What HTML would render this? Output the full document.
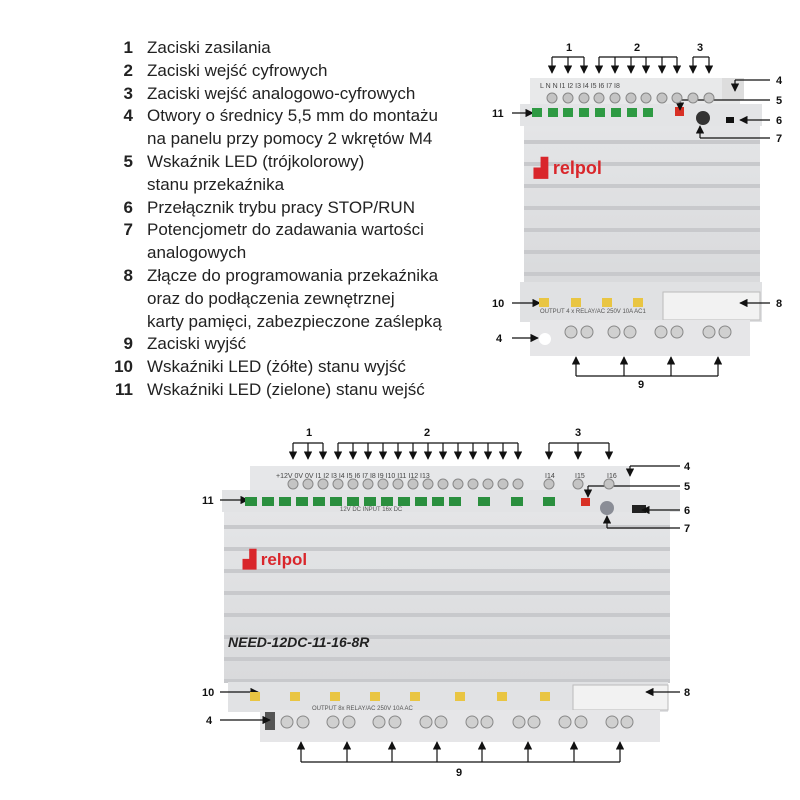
<!DOCTYPE html>
<html><head><meta charset="utf-8"><style>
body{margin:0;background:#fff;width:800px;height:800px;overflow:hidden}
.t{position:absolute;font-family:"Liberation Sans",sans-serif;font-size:17px;color:#222}
.t div{height:22.8px;line-height:22.8px;white-space:nowrap}
.t b{display:inline-block;width:22px;text-align:right;margin-right:14px;vertical-align:top;line-height:22.8px}
.t .c{padding-left:36px}
</style></head><body>
<div class="t" style="left:111px;top:37px;width:380px">
<div><b>1</b>Zaciski zasilania</div>
<div><b>2</b>Zaciski wejść cyfrowych</div>
<div><b>3</b>Zaciski wejść analogowo-cyfrowych</div>
<div><b>4</b>Otwory o średnicy 5,5 mm do montażu</div>
<div class="c">na panelu przy pomocy 2 wkrętów M4</div>
<div><b>5</b>Wskaźnik LED (trójkolorowy)</div>
<div class="c">stanu przekaźnika</div>
<div><b>6</b>Przełącznik trybu pracy STOP/RUN</div>
<div><b>7</b>Potencjometr do zadawania wartości</div>
<div class="c">analogowych</div>
<div><b>8</b>Złącze do programowania przekaźnika</div>
<div class="c">oraz do podłączenia zewnętrznej</div>
<div class="c">karty pamięci, zabezpieczone zaślepką</div>
<div><b>9</b>Zaciski wyjść</div>
<div><b>10</b>Wskaźniki LED (żółte) stanu wyjść</div>
<div><b>11</b>Wskaźniki LED (zielone) stanu wejść</div>
</div>
<svg id="s" width="800" height="800" style="position:absolute;left:0;top:0" font-family="Liberation Sans,sans-serif">
<defs>
<linearGradient id="g" x1="0" y1="0" x2="0" y2="1">
<stop offset="0" stop-color="#e4e5e7"/><stop offset="1" stop-color="#d9dadc"/></linearGradient>
<marker id="a" viewBox="0 0 10 10" refX="9" refY="5" markerWidth="7" markerHeight="7" orient="auto-start-reverse"><path d="M0,0L10,5L0,10z" fill="#111"/></marker>
</defs>
<rect x="530" y="78" width="210" height="30" fill="#e8e9ea"/>
<rect x="722" y="78" width="22" height="22" fill="#ddd"/>
<rect x="520" y="104" width="242" height="22" fill="#e3e4e6"/>
<rect x="524" y="126" width="236" height="156" fill="url(#g)"/>
<g id="tg"></g>
<rect x="520" y="282" width="242" height="40" fill="#e0e1e3"/>
<rect x="663" y="292" width="97" height="28" fill="#f2f2f2" stroke="#bbb"/>
<rect x="530" y="320" width="220" height="36" fill="#e6e6e8"/>
<circle cx="545" cy="339" r="6" fill="#fff"/>
<text x="534" y="174" font-size="18" font-weight="bold" fill="#d9262b">▟ relpol</text>
<rect x="675" y="107" width="9" height="9" fill="#d83025"/>
<circle cx="703" cy="118" r="7" fill="#333"/>
<rect x="726" y="117" width="8" height="6" fill="#111"/>
<text x="540" y="313" font-size="6" fill="#555">OUTPUT 4 x RELAY/AC 250V 10A AC1</text>
<rect x="250" y="466" width="380" height="26" fill="#e6e7e9"/>
<rect x="222" y="490" width="458" height="22" fill="#e2e3e5"/>
<rect x="224" y="512" width="446" height="170" fill="url(#g)"/>
<g id="bg"></g>
<rect x="228" y="682" width="440" height="30" fill="#e1e2e4"/>
<rect x="573" y="685" width="95" height="25" fill="#f2f2f2" stroke="#bbb"/>
<rect x="260" y="710" width="400" height="32" fill="#e6e6e8"/>
<rect x="265" y="712" width="10" height="18" fill="#555"/>
<text x="243" y="565" font-size="17" font-weight="bold" fill="#d9262b">▟ relpol</text>
<text x="228" y="647" font-size="14" font-weight="bold" font-style="italic" fill="#222">NEED-12DC-11-16-8R</text>
<rect x="581" y="498" width="9" height="8" fill="#d83025"/>
<circle cx="607" cy="508" r="7" fill="#8a8d96"/>
<rect x="632" y="505" width="14" height="8" fill="#222"/>
<text x="340" y="511" font-size="6" fill="#555">12V DC INPUT 16x DC</text>
<text x="312" y="710" font-size="6" fill="#555">OUTPUT 8x RELAY/AC 250V 10A AC</text>
<text x="276" y="478" font-size="7" fill="#444">+12V 0V  0V  I1  I2  I3  I4  I5  I6  I7  I8  I9  I10 I11 I12 I13</text>
<text x="545" y="478" font-size="7" fill="#444">I14</text><text x="575" y="478" font-size="7" fill="#444">I15</text><text x="607" y="478" font-size="7" fill="#444">I16</text>
<text x="540" y="88" font-size="7" fill="#444">L   N   N   I1   I2  I3  I4  I5  I6  I7  I8</text>
<g font-size="11" font-weight="bold" fill="#111">
<text x="566" y="51">1</text><text x="634" y="51">2</text><text x="697" y="51">3</text>
<text x="776" y="84">4</text><text x="776" y="104">5</text><text x="776" y="124">6</text><text x="776" y="142">7</text>
<text x="776" y="307">8</text><text x="638" y="388">9</text><text x="492" y="307">10</text><text x="496" y="342">4</text><text x="492" y="117">11</text>
<text x="306" y="436">1</text><text x="424" y="436">2</text><text x="575" y="436">3</text>
<text x="684" y="470">4</text><text x="684" y="490">5</text><text x="684" y="514">6</text><text x="684" y="532">7</text>
<text x="684" y="696">8</text><text x="456" y="776">9</text><text x="202" y="696">10</text><text x="206" y="724">4</text><text x="202" y="504">11</text>
</g>
<g id="ar" stroke="#111" stroke-width="1.2" fill="none"></g>
</svg>
<script>
const N="http://www.w3.org/2000/svg",S=document.getElementById('s');
function el(p,t,a){const e=document.createElementNS(N,t);for(const k in a)e.setAttribute(k,a[k]);p.appendChild(e);return e}
const tg=document.getElementById('tg'),bg=document.getElementById('bg'),ar=document.getElementById('ar');
for(let y=140;y<280;y+=22)el(tg,'rect',{x:524,y:y,width:236,height:4,fill:'#c8c9cc'});
for(let y=525;y<680;y+=22)el(bg,'rect',{x:224,y:y,width:446,height:4,fill:'#c8c9cc'});
[552,568,584,599,615,631,646,662,677,693,709].forEach(x=>el(S,'circle',{cx:x,cy:98,r:5,fill:'#c4c4c4',stroke:'#888'}));
[537,553,568,584,600,616,632,648].forEach(x=>el(S,'rect',{x:x-5,y:108,width:10,height:9,fill:'#2e9a43'}));
[544,576,607,638].forEach(x=>el(S,'rect',{x:x-5,y:298,width:10,height:9,fill:'#e9c542'}));
[571,587,614,630,661,677,709,725].forEach(x=>el(S,'circle',{cx:x,cy:332,r:6,fill:'#d0d0d0',stroke:'#888'}));
[293,308,323,338,353,368,383,398,413,428,443,458,473,488,503,518,549,578,609].forEach(x=>el(S,'circle',{cx:x,cy:484,r:5,fill:'#c4c4c4',stroke:'#888'}));
[251,268,285,302,319,336,353,370,387,404,421,438,455,484,517,549].forEach(x=>el(S,'rect',{x:x-6,y:497,width:12,height:9,fill:'#2a8f3e'}));
[255,295,335,375,415,460,502,545].forEach(x=>el(S,'rect',{x:x-5,y:692,width:10,height:9,fill:'#e9c542'}));
[287,303,333,349,379,395,426,441,472,487,519,534,565,581,612,627].forEach(x=>el(S,'circle',{cx:x,cy:722,r:6,fill:'#d0d0d0',stroke:'#888'}));
function L(x1,y1,x2,y2,m){const e=el(ar,'line',{x1,y1,x2,y2});if(m)e.setAttribute('marker-end','url(#a)')}
function br(xs,y,y2){L(xs[0],y,xs[xs.length-1],y);xs.forEach(x=>L(x,y,x,y2,1))}
br([552,568,584],57,73);br([599,615,631,646,662,677],57,73);br([693,709],57,73);
br([576,624,671,718],376,357);
br([293,308,323],443,459);br([338,353,368,383,398,413,428,443,458,473,488,503,518],443,459);br([549,578,609],443,459);
br([301,347,392,437,482,528,574,620],762,742);
L(770,80,735,80);L(735,80,735,91,1);L(770,100,680,100);L(680,100,680,110,1);L(770,120,740,120,1);L(770,138,700,138);L(700,138,700,126,1);
L(770,303,740,303,1);L(512,303,540,303,1);L(512,338,538,338,1);L(512,113,533,113,1);
L(680,466,630,466);L(630,466,630,476,1);L(680,486,588,486);L(588,486,588,497,1);L(680,510,642,510,1);L(680,528,607,528);L(607,528,607,516,1);
L(680,692,646,692,1);L(220,692,258,692,1);L(220,720,270,720,1);L(220,500,248,500,1);
</script>
</body></html>
